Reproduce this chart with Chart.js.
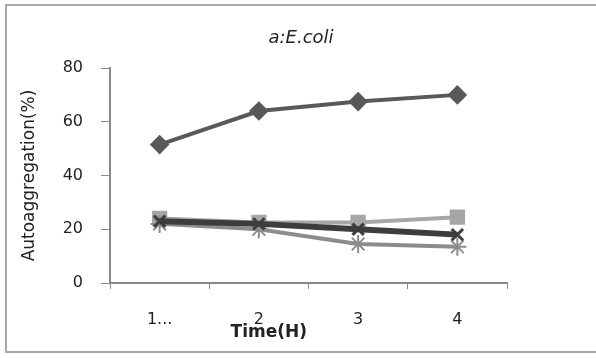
<!DOCTYPE html>
<html>
<head>
<meta charset="utf-8">
<script src="https://cdn.jsdelivr.net/npm/chart.js@4"></script>
<style>
  html, body { margin: 0; padding: 0; background: #fff; }
  #wrap { position: relative; width: 596px; height: 358px; overflow: hidden; }
  #frame { position: absolute; left: 5px; top: 4px; width: 610px; height: 349px; border: 2px solid #a8a8a8; box-sizing: border-box; }
  canvas { position: absolute; left: 0; top: 0; }
</style>
</head>
<body>
<div id="wrap">
  <div id="frame"></div>
  <canvas id="chart" width="596" height="358"></canvas>
</div>
<script>
// values
const timeLabels = ['1...', '2', '3', '4'];
const diamondSeries = [51.5, 64, 67.5, 70];
const squareSeries = [24, 22.5, 22.5, 24.5];
const darkSeries = [23, 22, 20, 18];
const starSeries = [22, 20, 14.5, 13.5];
const yTicks = [0, 20, 40, 60, 80];

// title and x-axis title are placed like in the original (not centred on the plot)
const textPlugin = {
  id: 'texts',
  afterDraw(chart) {
    const { ctx, chartArea } = chart;
    ctx.save();
    ctx.fillStyle = '#222';
    ctx.textAlign = 'center';
    ctx.textBaseline = 'middle';
    ctx.font = 'italic 18px "DejaVu Sans"';
    ctx.fillText('a:E.coli', chart.width / 2 + 3, 38);
    ctx.font = 'bold 17px "DejaVu Sans"';
    ctx.fillText('Time(H)', chartArea.left + (chartArea.right - chartArea.left) * 0.4, 333);
    ctx.restore();
  }
};

new Chart(document.getElementById('chart'), {
  type: 'line',
  data: {
    labels: timeLabels,
    datasets: [
      {
        label: 'dark',
        data: darkSeries,
        borderColor: '#3d3d3d',
        backgroundColor: '#3d3d3d',
        borderWidth: 6,
        pointStyle: 'crossRot',
        pointRadius: 8,
        pointBorderWidth: 3,
      },
      {
        label: 'diamond',
        data: diamondSeries,
        borderColor: '#595959',
        backgroundColor: '#595959',
        borderWidth: 4,
        pointStyle: 'rectRot',
        pointRadius: 7,
      },
      {
        label: 'star',
        data: starSeries,
        borderColor: '#8c8c8c',
        backgroundColor: '#8c8c8c',
        borderWidth: 4,
        pointStyle: 'star',
        pointRadius: 9,
        pointBorderWidth: 2,
      },
      {
        label: 'square',
        data: squareSeries,
        borderColor: '#a6a6a6',
        backgroundColor: '#a6a6a6',
        borderWidth: 4,
        pointStyle: 'rect',
        pointRadius: 8,
      },
    ],
  },
  options: {
    responsive: false,
    animation: false,
    layout: { padding: { right: 89, bottom: 0, left: 0, top: 68 } },
    plugins: {
      legend: { display: false },
      tooltip: { enabled: false },
      title: { display: false },
    },
    scales: {
      x: {
        offset: true,
        grid: { offset: true, drawOnChartArea: false, drawTicks: true, tickLength: 6, color: '#888' },
        border: { display: true, color: '#888', width: 2 },
        ticks: { color: '#222', padding: 21, font: { family: 'DejaVu Sans', size: 16 } },
        afterFit(scale) { scale.height = 75; },
      },
      y: {
        min: 0,
        max: 80,
        afterBuildTicks(scale) { scale.ticks = yTicks.map(v => ({ value: v })); },
        grid: { drawOnChartArea: false, drawTicks: true, tickLength: 9, color: '#888' },
        border: { display: true, color: '#888', width: 2 },
        ticks: { color: '#222', padding: 18, font: { family: 'DejaVu Sans', size: 16 } },
        title: {
          display: true,
          text: 'Autoaggregation(%)',
          color: '#222',
          font: { family: 'DejaVu Sans', size: 17 },
          padding: { top: 19, bottom: 0 },
        },
        afterFit(scale) { scale.width = 110; },
      },
    },
  },
  plugins: [textPlugin],
});
</script>
</body>
</html>
